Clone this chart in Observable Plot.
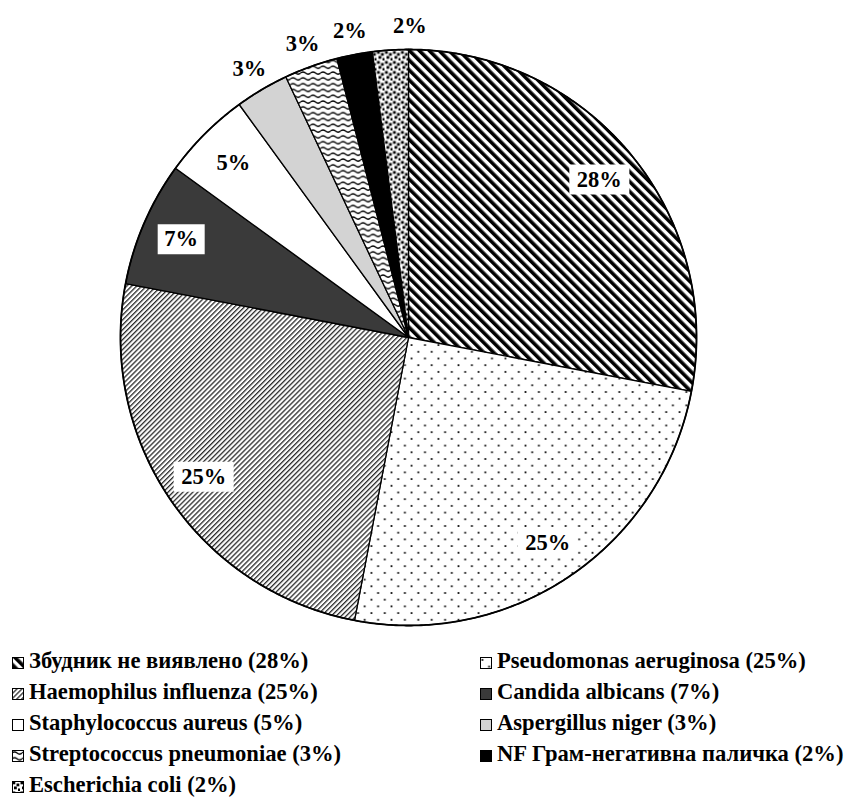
<!DOCTYPE html>
<html>
<head>
<meta charset="utf-8">
<script src="https://cdn.jsdelivr.net/npm/d3@7"></script>
<script src="https://cdn.jsdelivr.net/npm/@observablehq/plot@0.6"></script>
<style>
  body { margin: 0; background: #fff; font-family: "Liberation Serif", "DejaVu Serif", serif; }
  #chart svg { display: block; }
  #legend {
    display: grid;
    grid-template-columns: 468px auto;
    padding-left: 12px;
    margin-top: 5px;
    font-size: 22.6px;
    font-weight: bold;
    line-height: 31px;
    color: #000;
    white-space: nowrap;
  }
  #legend svg { margin-right: 5px; vertical-align: -1px; }
</style>
</head>
<body>
<!-- fill patterns for the slices and the legend swatches -->
<svg width="0" height="0" style="position:absolute">
  <defs>
    <pattern id="pat-wide" width="7" height="7" patternUnits="userSpaceOnUse" patternTransform="rotate(-45)">
      <rect width="7" height="7" fill="#fff"/><rect width="3.6" height="7" fill="#000"/>
    </pattern>
    <pattern id="pat-dots" width="13.4" height="13.4" patternUnits="userSpaceOnUse">
      <rect width="13.4" height="13.4" fill="#fff"/>
      <rect x="1.5" y="2" width="1.8" height="1.8" fill="#111"/>
      <rect x="8.2" y="8.7" width="1.8" height="1.8" fill="#111"/>
    </pattern>
    <pattern id="pat-fine" width="3.5" height="3.5" patternUnits="userSpaceOnUse" patternTransform="rotate(45)">
      <rect width="3.5" height="3.5" fill="#fff"/><rect width="1.3" height="3.5" fill="#2a2a2a"/>
    </pattern>
    <pattern id="pat-wave" width="10" height="5.8" patternUnits="userSpaceOnUse">
      <rect width="10" height="5.8" fill="#fff"/>
      <path d="M0 3 Q2.5 0.8 5 3 T10 3" fill="none" stroke="#000" stroke-width="1.3"/>
    </pattern>
    <pattern id="pat-confetti" width="8" height="10" patternUnits="userSpaceOnUse">
      <rect width="8" height="10" fill="#fff"/>
      <rect x="0.5" y="0.5" width="2.8" height="2.8" fill="#000"/>
      <rect x="4.5" y="2.5" width="2.8" height="2.8" fill="#000"/>
      <rect x="2" y="5.5" width="2.8" height="2.8" fill="#000"/>
      <rect x="6" y="7.5" width="2.8" height="2.8" fill="#000"/>
    </pattern>
  </defs>
</svg>
<div id="chart"></div>
<div id="legend"></div>
<script>
// Pathogens detected, in drawing order (clockwise from 12 o'clock)
const organisms = [
  "Збудник не виявлено",
  "Pseudomonas aeruginosa",
  "Haemophilus influenza",
  "Candida albicans",
  "Staphylococcus aureus",
  "Aspergillus niger",
  "Streptococcus pneumoniae",
  "NF Грам-негативна паличка",
  "Escherichia coli"
];
// Share of each pathogen, %
const shares = [28, 25, 25, 7, 5, 3, 3, 2, 2];
// Fill of each slice
const fills = [
  "url(#pat-wide)", "url(#pat-dots)", "url(#pat-fine)", "#3a3a3a", "#ffffff",
  "#d3d3d3", "url(#pat-wave)", "#000000", "url(#pat-confetti)"
];

const serif = "'Liberation Serif', 'DejaVu Serif', serif";

const rows = organisms.map((name, i) => ({name, share: shares[i], fill: fills[i]}));
const arcs = d3.pie().sort(null).value(d => d.share)(rows);

// Slice outline in unit coordinates (y up); angle measured clockwise from the top
function sliceRing(a0, a1, closeAtCenter = true) {
  const n = Math.max(4, Math.ceil((a1 - a0) / (Math.PI / 360)));
  const pts = closeAtCenter ? [[0, 0]] : [];
  for (let k = 0; k <= n; k++) {
    const a = a0 + (a1 - a0) * k / n;
    pts.push([Math.sin(a), Math.cos(a)]);
  }
  pts.push(closeAtCenter ? [0, 0] : pts[0]);
  return pts;
}
const slices = arcs.map(a => ({
  type: "Feature",
  properties: {fill: a.data.fill},
  geometry: {type: "Polygon", coordinates: [sliceRing(a.startAngle, a.endAngle)]}
}));
const disc = {type: "Polygon", coordinates: [sliceRing(0, 2 * Math.PI, false)]};

// Label anchors: large slices inside (boxed), thin ones just outside the rim
const labels = arcs.map((a, i) => {
  const mid = (a.startAngle + a.endAngle) / 2;
  const inside = a.data.share >= 5;
  const r = inside ? 0.86 : 1.085;
  return {x: r * Math.sin(mid), y: r * Math.cos(mid), text: a.data.share + "%", inside, last: i === arcs.length - 1};
});

const rectSymbol = (w, h) => ({draw(ctx) { ctx.rect(-w / 2, -h / 2, w, h); }});
const font = {fontSize: 22.5, fontWeight: "bold", fontFamily: serif, fill: "#000"};

const chart = Plot.plot({
  width: 849,
  height: 640,
  margin: 0,
  projection: {
    type: "reflect-y",
    domain: disc,
    insetTop: 49, insetRight: 33, insetBottom: 15, insetLeft: 0,
    clip: false
  },
  color: {type: "identity"},
  marks: [
    Plot.geo(slices, {fill: d => d.properties.fill, stroke: "#000", strokeWidth: 1.3}),
    Plot.geo([disc], {fill: "none", stroke: "#000", strokeWidth: 1.8}),
    Plot.dot(labels.filter(d => d.inside && d.text.length === 3), {x: "x", y: "y", symbol: rectSymbol(60, 30), fill: "#fff", stroke: null}),
    Plot.dot(labels.filter(d => d.inside && d.text.length === 2), {x: "x", y: "y", symbol: rectSymbol(47, 30), fill: "#fff", stroke: null}),
    Plot.text(labels.filter(d => !d.last), {x: "x", y: "y", text: "text", ...font}),
    Plot.text(labels.filter(d => d.last), {x: "x", y: "y", text: "text", dx: 21, ...font})
  ]
});
document.getElementById("chart").append(chart);

// Legend, two columns, row-major, with small pattern swatches
const legend = d3.select("#legend");
rows.forEach(d => {
  const item = legend.append("div");
  item.append("svg").attr("width", 12).attr("height", 12)
    .append("rect").attr("x", 0.5).attr("y", 0.5).attr("width", 11).attr("height", 11)
    .attr("fill", d.fill).attr("stroke", "#000").attr("stroke-width", 1);
  item.append("span").text(`${d.name} (${d.share}%)`);
});
</script>
</body>
</html>
